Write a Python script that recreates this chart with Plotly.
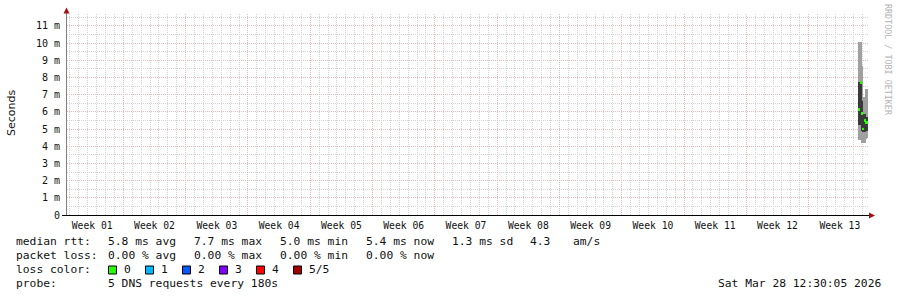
import plotly.graph_objects as go

# ---------------- data ----------------
# time in days since the start of the 90-day window
t_days = [89.04, 89.16, 89.27, 89.38, 89.49, 89.61, 89.72, 89.83, 89.94]
ping_min = [4.36, 4.36, 4.20, 4.20, 4.17, 4.17, 4.40, 4.40, 4.50]
ping_q2 = [5.23, 5.23, 5.00, 4.90, 4.80, 4.80, 4.90, 4.90, 4.90]
median = [6.15, 7.70, 5.90, 5.90, 5.00, 5.50, 5.40, 5.40, 5.40]
ping_q4 = [7.75, 7.75, 7.00, 6.60, 5.90, 5.90, 5.70, 5.70, 5.70]
ping_max = [10.06, 10.06, 8.66, 8.66, 6.88, 6.88, 7.31, 7.31, 7.31]
step_days = 0.1125

week_bounds = [6.33 + 7 * k for k in range(12)]
week_mids = [2.83 + 7 * k for k in range(13)]
week_labels = ["Week %02d" % (k + 1) for k in range(13)]
day_lines = [0.33 + k for k in range(90)]

y_ticks = list(range(12))
y_labels = ["0"] + ["%d m" % v for v in range(1, 12)]
y_minor = [v + 0.5 for v in range(12)]

stat_rtt = ["5.8 ms avg", "7.7 ms max", "5.0 ms min", "5.4 ms now", "1.3 ms sd"]
stat_loss = ["0.00 % avg", "0.00 % max", "0.00 % min", "0.00 % now"]
loss_labels = ["0", "1", "2", "3", "4", "5/5"]
loss_colors = ["#26ff00", "#00b8ff", "#0059ff", "#7e00ff", "#ff0000", "#a10000"]

# ---------------- layout geometry ----------------
FW, FH = 897, 297
L, R, T, B = 67, 29, 14, 82
W = FW - L - R
H = FH - T - B


def px(x):
    return (x - L) / W


def py(y):
    return (FH - B - y) / H


MONO = "DejaVu Sans Mono"
RED_GRID = "#efb8b8"
GRAY_GRID = "#d2d2d2"
DASH = "1px,1px"
fig = go.Figure()

fig.add_trace(go.Bar(x=t_days, base=ping_min,
                     y=[a - b for a, b in zip(ping_max, ping_min)],
                     width=[step_days] * len(t_days),
                     marker=dict(color="#a0a0a0", line=dict(width=0)),
                     showlegend=False, hoverinfo="skip"))
fig.add_trace(go.Bar(x=t_days, base=ping_q2,
                     y=[a - b for a, b in zip(ping_q4, ping_q2)],
                     width=[step_days] * len(t_days),
                     marker=dict(color="#3a3a3a", line=dict(width=0)),
                     showlegend=False, hoverinfo="skip"))
fig.add_trace(go.Bar(x=t_days, base=[m - 0.08 for m in median],
                     y=[0.16] * len(t_days),
                     width=[step_days] * len(t_days),
                     marker=dict(color=loss_colors[0], line=dict(width=0)),
                     showlegend=False, hoverinfo="skip"))
fig.add_trace(go.Scatter(x=week_mids, y=[None] * len(week_mids), xaxis="x2",
                         showlegend=False, hoverinfo="skip"))

fig.update_layout(
    width=FW, height=FH, margin=dict(l=L, r=R, t=T, b=B, pad=0, autoexpand=False),
    paper_bgcolor="white", plot_bgcolor="white", barmode="overlay",
    bargap=0,
    xaxis=dict(range=[0, 90], tickmode="array", tickvals=week_bounds, automargin=False,
               showticklabels=False, ticks="", showline=False, zeroline=False,
               showgrid=True, gridcolor=RED_GRID, griddash=DASH, gridwidth=1,
               minor=dict(tickmode="array", tickvals=day_lines, showgrid=True,
                          gridcolor=GRAY_GRID, griddash=DASH, gridwidth=1, ticks="")),
    xaxis2=dict(range=[0, 90], overlaying="x", side="bottom", tickmode="array",
                automargin=False,
                tickvals=week_mids, ticktext=week_labels, showgrid=False,
                showline=False, zeroline=False, ticks="", ticklabelstandoff=3,
                tickfont=dict(family=MONO, size=9.7, color="#111")),
    yaxis=dict(range=[0, H / 17.2], tickmode="array", tickvals=y_ticks, automargin=False,
               ticktext=y_labels, showline=False, zeroline=False, ticks="",
               ticklabelstandoff=6,
               tickfont=dict(family=MONO, size=10, color="#111"),
               showgrid=True, gridcolor=RED_GRID, griddash=DASH, gridwidth=1,
               minor=dict(tickmode="array", tickvals=y_minor, showgrid=True,
                          gridcolor=GRAY_GRID, griddash=DASH, gridwidth=1, ticks="")),
    font=dict(family=MONO),
)

shapes = []
# y axis line + arrow
shapes.append(dict(type="line", xref="paper", yref="paper", x0=px(66.5), x1=px(66.5),
                   y0=py(215.5), y1=py(13), line=dict(color="#808080", width=1)))
shapes.append(dict(type="path", xref="paper", yref="paper",
                   path="M %f,%f L %f,%f L %f,%f Z" % (px(63.5), py(13.5), px(66.5), py(7.5), px(69.5), py(13.5)),
                   fillcolor="#a81010", line=dict(width=0)))
# x axis line + arrow
shapes.append(dict(type="line", xref="paper", yref="paper", x0=px(62), x1=px(869),
                   y0=py(215.5), y1=py(215.5), line=dict(color="#000000", width=1)))
shapes.append(dict(type="path", xref="paper", yref="paper",
                   path="M %f,%f L %f,%f L %f,%f Z" % (px(869), py(212.5), px(875), py(215.5), px(869), py(218.5)),
                   fillcolor="#a81010", line=dict(width=0)))

annotations = []


def text(x, y, s, size=11.3, color="#111", anchor="left", angle=0, family=MONO):
    annotations.append(dict(xref="paper", yref="paper", x=px(x), y=py(y), text=s,
                            showarrow=False, xanchor=anchor, yanchor="middle",
                            textangle=angle,
                            font=dict(family=family, size=size, color=color)))


# y axis title
text(11, 113, "Seconds", size=11, anchor="center", angle=-90, family="DejaVu Sans")

# legend lines
X0, X1 = 14, 105.5
text(X0, 241, "median rtt:")
for i, s in enumerate(stat_rtt):
    text(X1 + 86 * i, 241, s)
text(527.5, 241, "4.3")
text(571, 241, "am/s")

text(X0, 255.5, "packet loss:")
for i, s in enumerate(stat_loss):
    text(X1 + 86 * i, 255.5, s)

text(X0, 269.5, "loss color:")
for i, (lab, col) in enumerate(zip(loss_labels, loss_colors)):
    bx = 108.5 + 37 * i
    shapes.append(dict(type="rect", xref="paper", yref="paper",
                       x0=px(bx), x1=px(bx + 8), y0=py(274), y1=py(266),
                       fillcolor=col, line=dict(color="#000", width=1)))
    text(bx + 13.5, 269.5, lab)

text(X0, 283.5, "probe:")
text(X1, 283.5, "5 DNS requests every 180s")
text(882.5, 283.5, "Sat Mar 28 12:30:05 2026", anchor="right")

text(888, 60, "RRDTOOL / TOBI OETIKER", size=8.4, color="#b4b4b4", anchor="center", angle=90)

fig.update_layout(shapes=shapes, annotations=annotations)
fig.write_html("out.html")
